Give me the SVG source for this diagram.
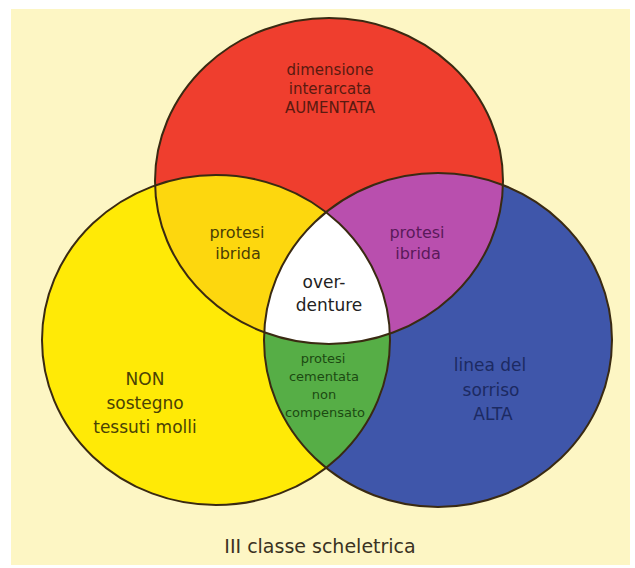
<svg xmlns="http://www.w3.org/2000/svg" width="635" height="568" viewBox="0 0 635 568">
  <style>
    .lbl { font-family: "Comic Sans MS", "DejaVu Sans", sans-serif; font-size: 15px; text-anchor: middle; }
    .edge { fill: none; stroke: #3a2a12; stroke-width: 2; }
  </style>
  <defs>
    <ellipse id="eRed" cx="329" cy="181" rx="174" ry="163"/>
    <ellipse id="eYel" cx="216" cy="340" rx="174" ry="165"/>
    <ellipse id="eBlu" cx="438" cy="340" rx="174" ry="167"/>
    <clipPath id="cRed"><use href="#eRed"/></clipPath>
    <clipPath id="cYel"><use href="#eYel"/></clipPath>
    <clipPath id="cBlu"><use href="#eBlu"/></clipPath>
  </defs>
  <rect x="0" y="0" width="635" height="568" fill="#ffffff"/>
  <rect x="11" y="9" width="619" height="556" fill="#fdf6c4"/>

  <g id="red">
    <use href="#eRed" fill="#ef3e2e"/>
  </g>
  <g id="yellow">
    <use href="#eYel" fill="#ffea06"/>
  </g>
  <g id="blue">
    <use href="#eBlu" fill="#3f56aa"/>
  </g>
  <g id="red-yellow">
    <use href="#eYel" fill="#fdd70e" clip-path="url(#cRed)"/>
  </g>
  <g id="red-blue">
    <use href="#eBlu" fill="#b94fae" clip-path="url(#cRed)"/>
  </g>
  <g id="yellow-blue">
    <use href="#eBlu" fill="#56ae46" clip-path="url(#cYel)"/>
  </g>
  <g id="center">
    <g clip-path="url(#cRed)">
      <use href="#eBlu" fill="#ffffff" clip-path="url(#cYel)"/>
    </g>
  </g>

  <g id="connectors">
    <use href="#eRed" class="edge"/>
    <use href="#eYel" class="edge"/>
    <use href="#eBlu" class="edge"/>
  </g>

  <g id="label-red" fill="#5a1a10">
    <text class="lbl" x="330" y="75">dimensione</text>
    <text class="lbl" x="330" y="94">interarcata</text>
    <text class="lbl" x="330" y="113">AUMENTATA</text>
  </g>
  <g id="label-red-yellow" fill="#4a3e05" style="font-size:16px">
    <text class="lbl" x="237" y="238" style="font-size:16px">protesi</text>
    <text class="lbl" x="238" y="259" style="font-size:16px">ibrida</text>
  </g>
  <g id="label-red-blue" fill="#5a1a5a">
    <text class="lbl" x="417" y="238" style="font-size:16px">protesi</text>
    <text class="lbl" x="418" y="259" style="font-size:16px">ibrida</text>
  </g>
  <g id="label-center" fill="#222222">
    <text class="lbl" x="324" y="288" style="font-size:17px">over-</text>
    <text class="lbl" x="329" y="311" style="font-size:17px">denture</text>
  </g>
  <g id="label-yellow-blue" fill="#1c4a12">
    <text class="lbl" x="323" y="363" style="font-size:13px">protesi</text>
    <text class="lbl" x="324" y="381" style="font-size:13px">cementata</text>
    <text class="lbl" x="324" y="399" style="font-size:13px">non</text>
    <text class="lbl" x="325" y="417" style="font-size:13px">compensato</text>
  </g>
  <g id="label-yellow" fill="#4a4205">
    <text class="lbl" x="145" y="385" style="font-size:17px">NON</text>
    <text class="lbl" x="145" y="409" style="font-size:17px">sostegno</text>
    <text class="lbl" x="145" y="433" style="font-size:17px">tessuti molli</text>
  </g>
  <g id="label-blue" fill="#1c2a62">
    <text class="lbl" x="490" y="371" style="font-size:17px">linea del</text>
    <text class="lbl" x="491" y="396" style="font-size:17px">sorriso</text>
    <text class="lbl" x="493" y="420" style="font-size:17px">ALTA</text>
  </g>
  <text class="lbl" x="320" y="553" fill="#3a3222" style="font-size:19px">III classe scheletrica</text>
</svg>
